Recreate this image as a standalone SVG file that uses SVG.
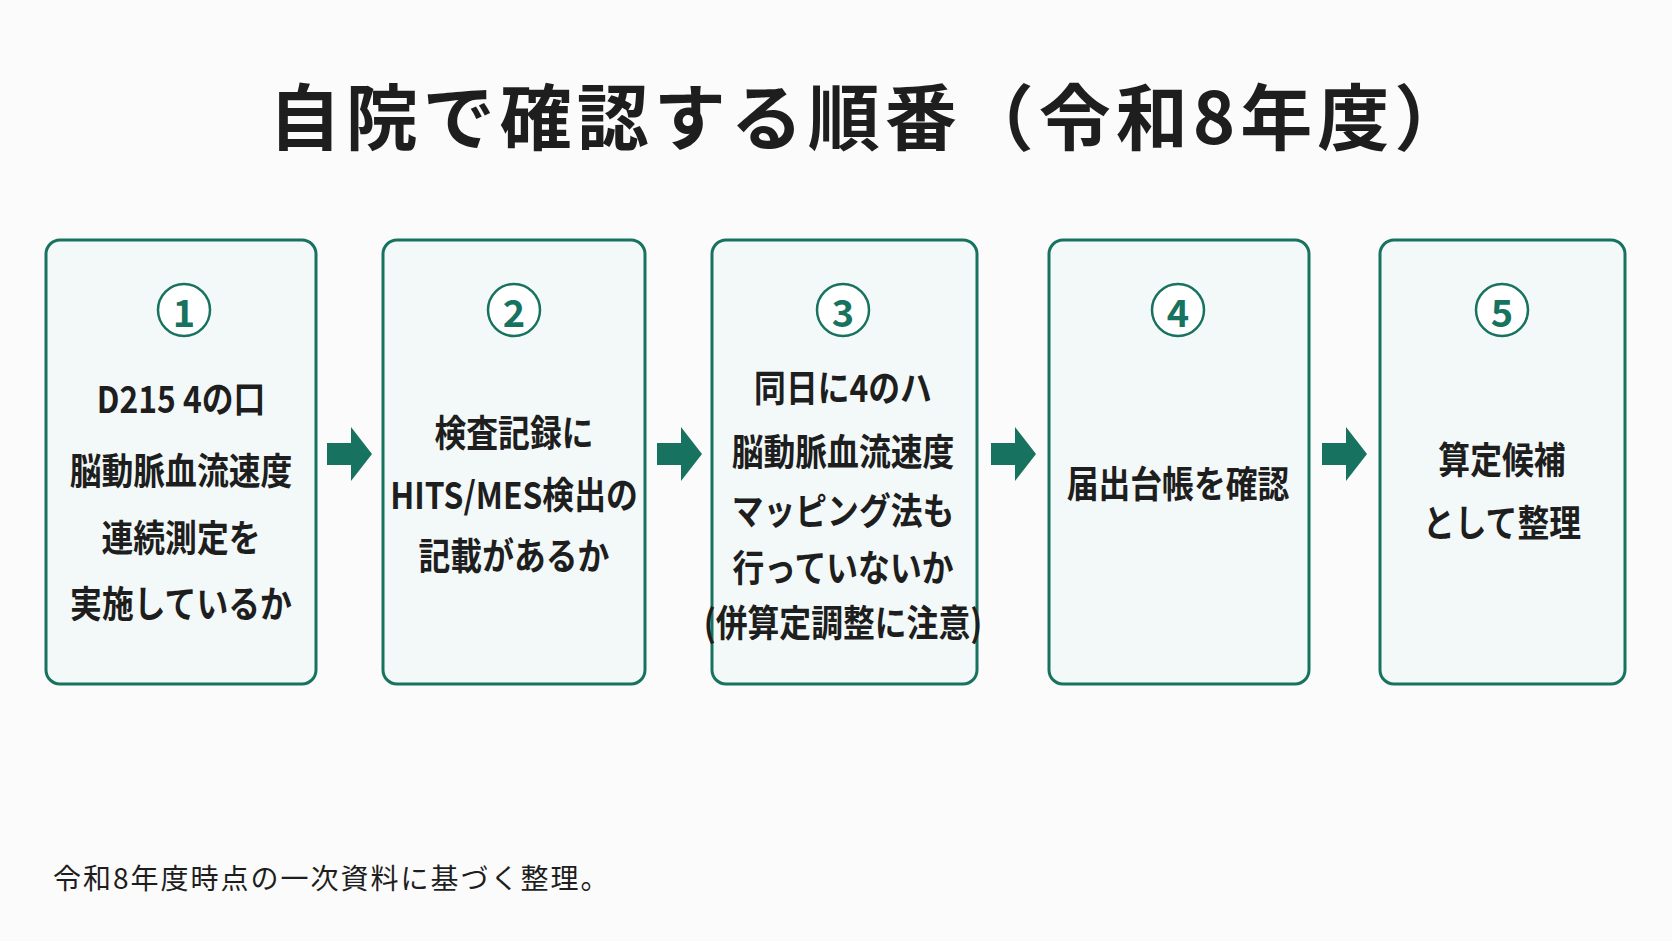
<svg xmlns="http://www.w3.org/2000/svg" width="1672" height="941" viewBox="0 0 1672 941">
<style>
.box{fill:#f3f9f8;stroke:#17735f;stroke-width:3}
.c{fill:#fff;stroke:#17735f;stroke-width:2.5}
.n{font-family:"Noto Sans CJK JP",sans-serif;font-weight:700;font-size:38px;fill:#17735f;text-anchor:middle;dominant-baseline:central}
.t{font-family:"Noto Sans CJK JP",sans-serif;font-weight:700;font-size:37px;fill:#1e1e1e;text-anchor:middle;dominant-baseline:central}
.ar{fill:#17735f}
</style>
<rect width="1672" height="941" fill="#fbfbfb"/>
<text x="870" y="112" font-family="'Noto Sans CJK JP',sans-serif" font-weight="700" font-size="72" fill="#1e1e1e" text-anchor="middle" dominant-baseline="central" letter-spacing="5">自院で確認する順番（令和8年度）</text>
<g id="n1"><rect class="box" x="46" y="240" width="270" height="444" rx="14"/><circle class="c" cx="184" cy="310" r="26"/><text class="n" x="184" y="310">1</text>
<g transform="translate(181 0) scale(0.86 1) translate(-181 0)"><text class="t" x="181" y="397">D215 4の口</text><text class="t" x="181" y="469">脳動脈血流速度</text><text class="t" x="181" y="536">連続測定を</text><text class="t" x="181" y="602">実施しているか</text></g></g>
<g id="n2"><rect class="box" x="383" y="240" width="262" height="444" rx="14"/><circle class="c" cx="514" cy="310" r="26"/><text class="n" x="514" y="310">2</text>
<g transform="translate(514 0) scale(0.86 1) translate(-514 0)"><text class="t" x="514" y="431">検査記録に</text><text class="t" x="514" y="493">HITS/MES検出の</text><text class="t" x="514" y="554">記載があるか</text></g></g>
<g id="n3"><rect class="box" x="712" y="240" width="265" height="444" rx="14"/><circle class="c" cx="843" cy="310" r="26"/><text class="n" x="843" y="310">3</text>
<g transform="translate(843 0) scale(0.86 1) translate(-843 0)"><text class="t" x="843" y="386">同日に4のハ</text><text class="t" x="843" y="450">脳動脈血流速度</text><text class="t" x="843" y="509">マッピング法も</text><text class="t" x="843" y="566">行っていないか</text><text class="t" x="843" y="621" font-size="31">(併算定調整に注意)</text></g></g>
<g id="n4"><rect class="box" x="1049" y="240" width="260" height="444" rx="14"/><circle class="c" cx="1178" cy="310" r="26"/><text class="n" x="1178" y="310">4</text>
<g transform="translate(1178 0) scale(0.86 1) translate(-1178 0)"><text class="t" x="1178" y="482">届出台帳を確認</text></g></g>
<g id="n5"><rect class="box" x="1380" y="240" width="245" height="444" rx="14"/><circle class="c" cx="1502" cy="310" r="26"/><text class="n" x="1502" y="310">5</text>
<g transform="translate(1502 0) scale(0.86 1) translate(-1502 0)"><text class="t" x="1502" y="458">算定候補</text><text class="t" x="1502" y="521">として整理</text></g></g>
<g id="connectors">
<path class="ar" d="M327,443h24v-16l21,27l-21,27v-16h-24z"/>
<path class="ar" d="M657,443h24v-16l21,27l-21,27v-16h-24z"/>
<path class="ar" d="M991,443h24v-16l21,27l-21,27v-16h-24z"/>
<path class="ar" d="M1322,443h24v-16l21,27l-21,27v-16h-24z"/>
</g>
<text x="53" y="877" font-family="'Noto Sans CJK JP',sans-serif" font-size="28" fill="#1e1e1e" dominant-baseline="central" letter-spacing="2">令和8年度時点の一次資料に基づく整理。</text>
</svg>
